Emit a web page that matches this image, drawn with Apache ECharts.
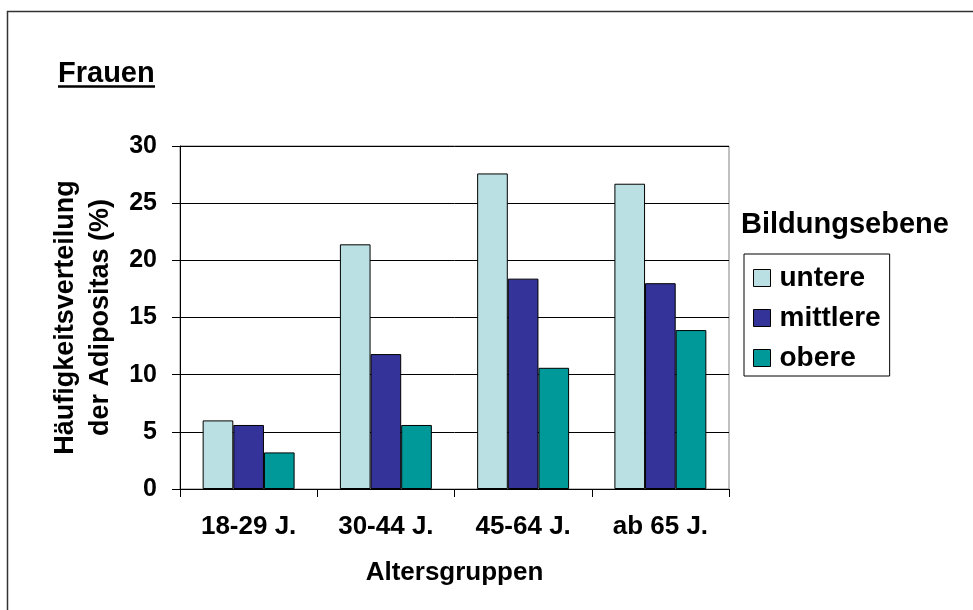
<!DOCTYPE html>
<html>
<head>
<meta charset="utf-8">
<script src="https://cdn.jsdelivr.net/npm/echarts@6/dist/echarts.min.js"></script>
<style>
html,body{margin:0;padding:0;background:#fff;}
#chart{width:973px;height:610px;}
</style>
</head>
<body>
<div id="chart"></div>
<script>
const categories = ['18-29 J.', '30-44 J.', '45-64 J.', 'ab 65 J.'];
const seriesNames = ['untere', 'mittlere', 'obere'];
const untere = [6.0, 21.4, 27.6, 26.7];
const mittlere = [5.6, 11.8, 18.4, 18.0];
const obere = [3.2, 5.6, 10.6, 13.9];
const yTicks = [0, 5, 10, 15, 20, 25, 30];
const colors = ['#BBE0E3', '#333399', '#009999'];

const FONT = '"Liberation Sans", Arial, Helvetica, sans-serif';
const chart = echarts.init(document.getElementById('chart'), null, {renderer: 'canvas'});

const values = [untere, mittlere, obere];
const option = {
  animation: false,
  backgroundColor: '#fff',
  textStyle: {fontFamily: FONT},
  grid: {
    left: 180, top: 146, width: 549, height: 343,
    show: true, borderColor: '#808080', borderWidth: 1, backgroundColor: 'transparent'
  },
  graphic: [
    {type: 'rect', shape: {x: 7.5, y: 11.5, width: 1100, height: 800},
     style: {fill: 'none', stroke: '#333', lineWidth: 1.5}, silent: true, z: -1},
    {type: 'text', x: 58, y: 74,
     style: {text: 'Frauen', font: 'bold 29px ' + FONT, fill: '#000', align: 'left', verticalAlign: 'middle'}},
    {type: 'line', shape: {x1: 58, y1: 86.5, x2: 155, y2: 86.5},
     style: {stroke: '#000', lineWidth: 2.5}},
    {type: 'text', x: 741, y: 224.5,
     style: {text: 'Bildungsebene', font: 'bold 29px ' + FONT, fill: '#000', align: 'left', verticalAlign: 'middle'}}
  ],
  legend: {
    orient: 'vertical',
    left: 744, top: 254,
    padding: [10, 9, 4, 9],
    borderColor: '#000', borderWidth: 1,
    itemWidth: 17, itemHeight: 17, itemGap: 12,
    icon: 'rect',
    itemStyle: {borderColor: '#000', borderWidth: 1},
    textStyle: {fontFamily: FONT, fontSize: 28, fontWeight: 'bold', color: '#000', padding: [0, 0, 0, 4]},
    data: seriesNames
  },
  xAxis: {
    type: 'category',
    data: categories,
    name: 'Altersgruppen',
    nameLocation: 'middle',
    nameGap: 71,
    nameTextStyle: {fontFamily: FONT, fontSize: 26, fontWeight: 'bold', color: '#000'},
    axisLine: {lineStyle: {color: '#000', width: 1}},
    axisTick: {show: true, length: 8, lineStyle: {color: '#000'}},
    axisLabel: {fontFamily: FONT, fontSize: 26, fontWeight: 'bold', color: '#000', margin: 25},
    splitLine: {show: false}
  },
  yAxis: {
    type: 'value',
    min: 0, max: 30, interval: 5,
    name: 'Häufigkeitsverteilung\nder Adipositas (%)',
    nameLocation: 'middle',
    nameGap: 58,
    nameRotate: 90,
    nameTextStyle: {fontFamily: FONT, fontSize: 27, fontWeight: 'bold', color: '#000', lineHeight: 35, align: 'center'},
    axisLine: {show: true, lineStyle: {color: '#000', width: 1}},
    axisTick: {show: true, length: 8, lineStyle: {color: '#000'}},
    axisLabel: {fontFamily: FONT, fontSize: 25, fontWeight: 'bold', color: '#000', margin: 23,
      formatter: function (v) { return yTicks.indexOf(v) >= 0 ? String(v) : ''; }},
    splitLine: {show: true, lineStyle: {color: '#000', width: 1}}
  },
  series: seriesNames.map(function (n, i) {
    return {
      name: n,
      type: 'bar',
      data: values[i],
      barGap: '0%',
      barCategoryGap: '33%',
      itemStyle: {color: colors[i], borderColor: '#000', borderWidth: 1}
    };
  })
};
chart.setOption(option);
</script>
</body>
</html>
